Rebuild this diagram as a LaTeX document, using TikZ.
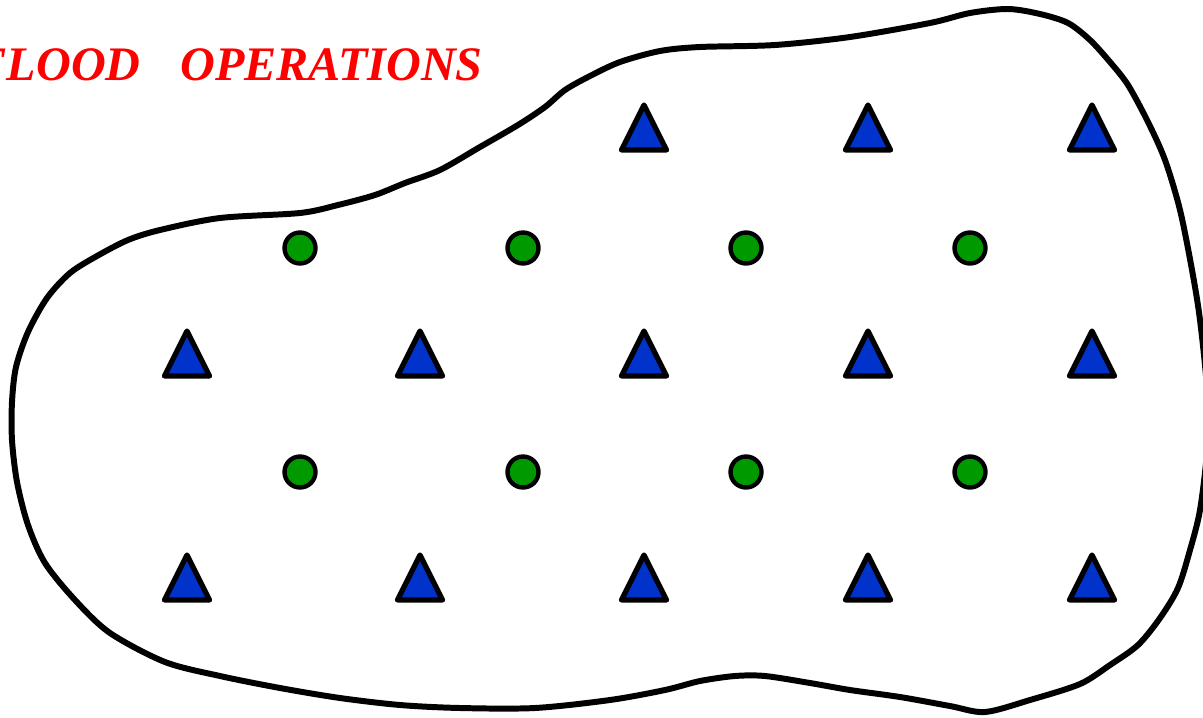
\documentclass[tikz,border=0pt]{standalone}
\usepackage{fontspec}
\setmainfont{Liberation Serif}
\usetikzlibrary{shapes.geometric}
\definecolor{markblue}{RGB}{0,51,204}
\definecolor{markgreen}{RGB}{0,153,0}

\begin{document}
\begin{tikzpicture}[x=0.02cm, y=-0.02cm,
  tri/.style={draw, fill=markblue, line width=3pt, line join=round, isosceles triangle, isosceles triangle stretches, shape border rotate=90, minimum width=0.9cm, minimum height=0.9cm, inner sep=0pt, outer sep=0pt, anchor=apex},
  dot/.style={draw, fill=markgreen, circle, line width=2.5pt, minimum size=0.62cm, inner sep=0pt},
  titletext/.style={text=red, font=\fontsize{27.4}{32}\selectfont\bfseries\itshape, inner sep=0pt}
]

\useasboundingbox (0,0) rectangle (1203,717);
\clip (0,0) rectangle (1203,717);

% region outline
\draw[line width=3.4pt, line join=round] plot[smooth cycle] coordinates {
  (620,62) (660,51) (700,47) (775,45) (850,37) (930,23) (970,13) (1008,9)
  (1040,14) (1068,23) (1090,40) (1110,62) (1128,85) (1148,122) (1165,160)
  (1180,210) (1192,270) (1200,320) (1207,390) (1207,450) (1200,510)
  (1190,550) (1178,588) (1160,618) (1138,645) (1110,665) (1080,684)
  (1030,700) (985,712) (950,706) (900,697) (850,690) (810,683) (765,676)
  (735,676) (700,681) (665,690) (610,700) (535,708) (460,708) (400,705)
  (340,698) (280,688) (220,676) (165,662) (110,633) (75,600) (45,563)
  (28,525) (17,482) (12,440) (12,402) (16,367) (28,332) (47,298) (70,273)
  (97,256) (128,240) (160,230) (220,218) (300,213) (338,205) (375,195)
  (405,183) (440,170) (480,147) (518,125) (545,107) (565,90) (590,76)};

\node[titletext, anchor=base east] (flood) at (141,80) {FLOOD};
\node[titletext, anchor=base west] (ops) at (180,80) {OPERATIONS};

% top row
\node[tri] (T13) at (644,105) {};
\node[tri] (T14) at (868,105) {};
\node[tri] (T15) at (1092,105) {};

% middle row
\node[tri] (T21) at (187,331) {};
\node[tri] (T22) at (420,331) {};
\node[tri] (T23) at (644,331) {};
\node[tri] (T24) at (868,331) {};
\node[tri] (T25) at (1092,331) {};

% bottom row
\node[tri] (T31) at (187,555) {};
\node[tri] (T32) at (420,555) {};
\node[tri] (T33) at (644,555) {};
\node[tri] (T34) at (868,555) {};
\node[tri] (T35) at (1092,555) {};

\node[dot] (C11) at (300,248) {};
\node[dot] (C12) at (523,248) {};
\node[dot] (C13) at (746,248) {};
\node[dot] (C14) at (970,248) {};

\node[dot] (C21) at (300,472) {};
\node[dot] (C22) at (523,472) {};
\node[dot] (C23) at (746,472) {};
\node[dot] (C24) at (970,472) {};

\end{tikzpicture}
\end{document}
